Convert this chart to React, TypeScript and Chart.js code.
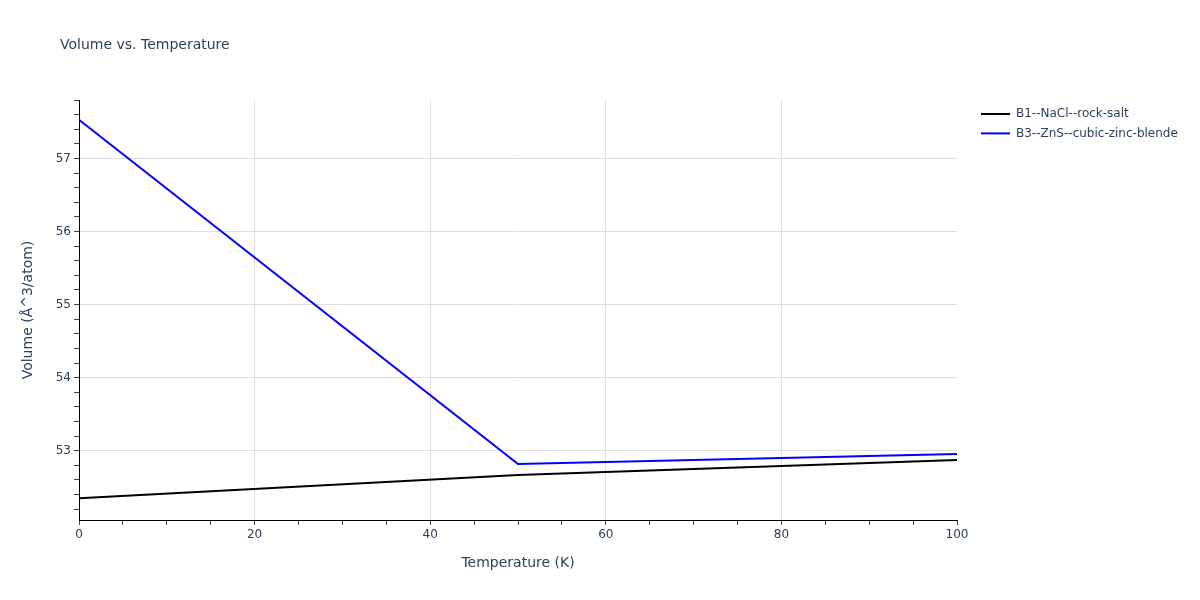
import React, { useEffect, useRef } from "react";
import { Chart, registerables } from "chart.js";

Chart.register(...registerables);

const temperatures = [0, 50, 100];
const rockSalt = [52.35, 52.667, 52.873];
const zincBlende = [57.53, 52.818, 52.955];
const seriesNames = ["B1--NaCl--rock-salt", "B3--ZnS--cubic-zinc-blende"];
const seriesColors = ["#000000", "#0000ff"];

const xMajorTicks = [0, 20, 40, 60, 80, 100];
const yMajorTicks = [53, 54, 55, 56, 57];
const xRange = [0, 100];
const yRange = [52.052, 57.8];
const xMinorStep = 5;
const yMinorStep = 0.2;

const TEXT = "#2a3f5f";
const FONT = "'DejaVu Sans', Verdana, sans-serif";

function isMajor(v: number, majors: number[]) {
  return majors.some((m) => Math.abs(m - v) < 1e-6);
}

function buildTicks(min: number, max: number, step: number) {
  const out: { value: number }[] = [];
  const start = Math.ceil(min / step - 1e-9);
  const end = Math.floor(max / step + 1e-9);
  for (let i = start; i <= end; i++) out.push({ value: +(i * step).toFixed(6) });
  return out;
}

const textPlugin = {
  id: "textPlugin",
  afterDraw(chart: any) {
    const ctx = chart.ctx;
    ctx.save();
    ctx.fillStyle = TEXT;
    ctx.textBaseline = "middle";
    ctx.font = `14px ${FONT}`;
    ctx.textAlign = "left";
    ctx.fillText("Volume vs. Temperature", 60, 45);

    ctx.font = `14px ${FONT}`;
    ctx.textAlign = "center";
    const ca = chart.chartArea;
    ctx.fillText("Temperature (K)", (ca.left + ca.right) / 2, 563);
    ctx.save();
    ctx.translate(28, (ca.top + ca.bottom) / 2);
    ctx.rotate(-Math.PI / 2);
    ctx.fillText("Volume (Å^3/atom)", 0, 0);
    ctx.restore();

    ctx.font = `12px ${FONT}`;
    ctx.textAlign = "left";
    seriesNames.forEach((name, i) => {
      const y = 114 + i * 19.4;
      ctx.strokeStyle = seriesColors[i];
      ctx.lineWidth = 2;
      ctx.beginPath();
      ctx.moveTo(981, y);
      ctx.lineTo(1010, y);
      ctx.stroke();
      ctx.fillStyle = TEXT;
      ctx.fillText(name, 1016, y);
    });
    ctx.restore();
  },
};

export default function App() {
  const ref = useRef<HTMLCanvasElement>(null);
  useEffect(() => {
    if (!ref.current) return;
    const chart = new Chart(ref.current, {
      type: "line",
      data: {
        datasets: [
          {
            label: seriesNames[0],
            data: temperatures.map((t, i) => ({ x: t, y: rockSalt[i] })),
            borderColor: seriesColors[0],
            borderWidth: 2,
            pointRadius: 0,
            tension: 0,
          },
          {
            label: seriesNames[1],
            data: temperatures.map((t, i) => ({ x: t, y: zincBlende[i] })),
            borderColor: seriesColors[1],
            borderWidth: 2,
            pointRadius: 0,
            tension: 0,
          },
        ],
      },
      options: {
        animation: false,
        responsive: false,
        layout: { padding: { top: 100, right: 243, left: 0, bottom: 0 } },
        plugins: { legend: { display: false }, title: { display: false }, tooltip: { enabled: false } },
        scales: {
          x: {
            type: "linear",
            min: xRange[0],
            max: xRange[1],
            afterBuildTicks: (axis: any) => {
              axis.ticks = buildTicks(xRange[0], xRange[1], xMinorStep);
            },
            afterFit: (s: any) => {
              s.height = 80;
            },
            ticks: {
              autoSkip: false,
              maxRotation: 0,
              padding: 3,
              color: TEXT,
              font: { family: FONT, size: 12 },
              callback: (v: any) => (isMajor(v, xMajorTicks) ? String(v) : ""),
            },
            grid: {
              color: (c: any) =>
                isMajor(c.tick.value, xMajorTicks) && c.tick.value > xRange[0] && c.tick.value < xRange[1]
                  ? "#dedede"
                  : "rgba(0,0,0,0)",
              lineWidth: 1,
              tickColor: "#444",
              tickLength: 5,
              drawTicks: true,
            },
            border: { color: "#000", width: 1 },
          },
          y: {
            type: "linear",
            min: yRange[0],
            max: yRange[1],
            afterBuildTicks: (axis: any) => {
              axis.ticks = buildTicks(yRange[0], yRange[1], yMinorStep);
            },
            afterFit: (s: any) => {
              s.width = 79;
            },
            ticks: {
              autoSkip: false,
              padding: 3,
              color: TEXT,
              font: { family: FONT, size: 12 },
              callback: (v: any) => (isMajor(v, yMajorTicks) ? String(Math.round(v)) : ""),
            },
            grid: {
              color: (c: any) => (isMajor(c.tick.value, yMajorTicks) ? "#dedede" : "rgba(0,0,0,0)"),
              lineWidth: 1,
              tickColor: "#444",
              tickLength: 5,
              drawTicks: true,
            },
            border: { color: "#000", width: 1 },
          },
        },
      },
      plugins: [textPlugin],
    } as any);
    return () => chart.destroy();
  }, []);
  return (
    <div style={{ position: "absolute", left: 0, top: 0, width: 1200, height: 600, background: "#fff" }}>
      <canvas ref={ref} width={1200} height={600} style={{ width: 1200, height: 600 }} />
    </div>
  );
}
